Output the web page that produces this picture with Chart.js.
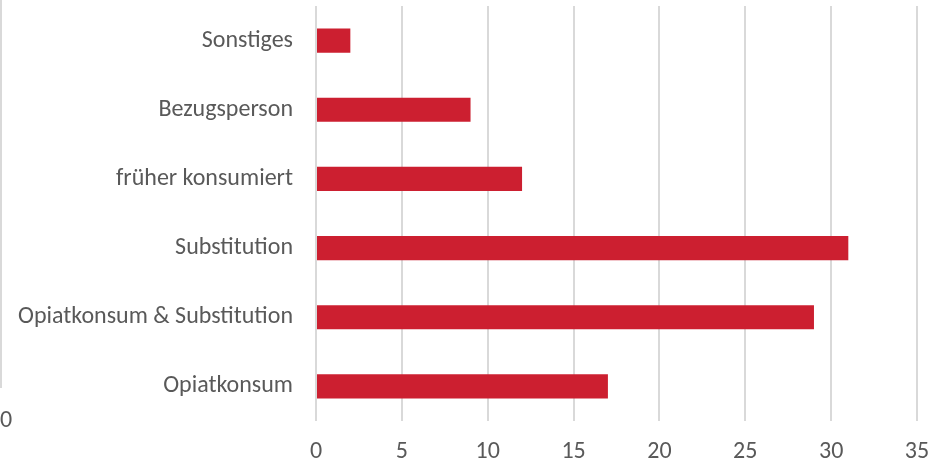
<!DOCTYPE html>
<html>
<head>
<meta charset="utf-8">
<script src="https://cdn.jsdelivr.net/npm/chart.js@4/dist/chart.umd.min.js"></script>
<style>
html,body{margin:0;padding:0;background:#fff;}
#wrap{width:944px;height:462px;position:relative;}
</style>
</head>
<body>
<div id="wrap"><canvas id="c" width="944" height="462"></canvas></div>
<script>
const categories = ["Sonstiges", "Bezugsperson", "früher konsumiert", "Substitution", "Opiatkonsum & Substitution", "Opiatkonsum"];
const values = [2, 9, 12, 31, 29, 17];
const xMin = 0, xMax = 35, xStep = 5;

const FONT = "Carlito, Lato, 'Open Sans', sans-serif";
const TEXT = "#595959";
const GRID = "#d9d9d9";

const edgePlugin = {
  id: 'edge',
  afterDraw(chart) {
    const ctx = chart.ctx;
    ctx.save();
    ctx.strokeStyle = GRID;
    ctx.lineWidth = 2;
    ctx.beginPath();
    ctx.moveTo(1, 0);
    ctx.lineTo(1, 388);
    ctx.stroke();
    ctx.fillStyle = TEXT;
    ctx.font = "24px " + FONT;
    ctx.textAlign = "left";
    ctx.textBaseline = "middle";
    ctx.fillText("0", 0, 421);
    ctx.restore();
  }
};

new Chart(document.getElementById('c'), {
  type: 'bar',
  data: {
    labels: categories,
    datasets: [{
      data: values,
      backgroundColor: '#cc1f30',
      borderWidth: 0,
      barPercentage: 0.35,
      categoryPercentage: 1
    }]
  },
  options: {
    indexAxis: 'y',
    responsive: false,
    animation: false,
    layout: { padding: { left: 0, right: 27, top: 6, bottom: 0 } },
    plugins: { legend: { display: false }, tooltip: { enabled: false } },
    scales: {
      x: {
        min: xMin, max: xMax,
        ticks: { stepSize: xStep, color: TEXT, font: { family: FONT, size: 24 }, padding: 17 },
        grid: { color: GRID, lineWidth: 2, drawTicks: false },
        border: { display: false },
        afterFit(s) { s.height = 41; s.paddingLeft = 0; s.paddingRight = 0; }
      },
      y: {
        ticks: { color: TEXT, font: { family: FONT, size: 24 }, padding: 23 },
        grid: { display: false, drawTicks: false },
        border: { display: false },
        afterFit(s) { s.width = 316; s.paddingTop = 0; s.paddingBottom = 0; }
      }
    }
  },
  plugins: [edgePlugin]
});
</script>
</body>
</html>
